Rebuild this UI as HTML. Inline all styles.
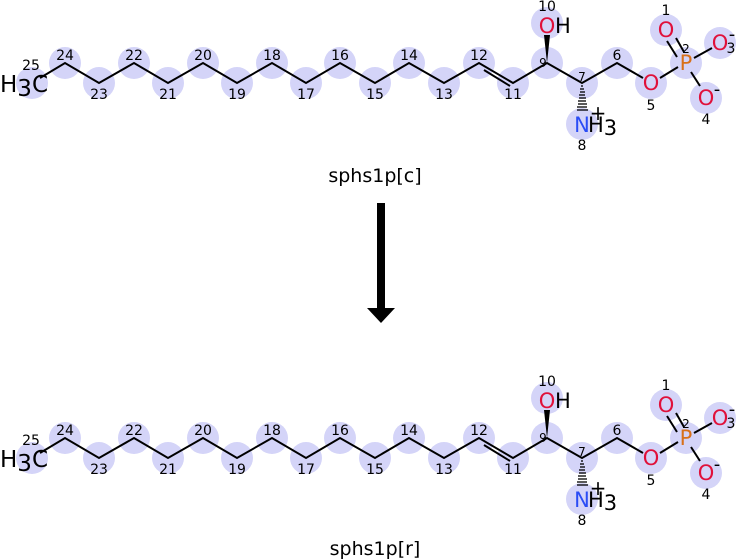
<!DOCTYPE html>
<html><head><meta charset="utf-8"><style>
html,body{margin:0;padding:0;background:#fff;width:736px;height:560px;overflow:hidden}
svg{display:block}
text{font-family:"DejaVu Sans","Liberation Sans",sans-serif}
</style></head><body>
<svg width="736" height="560" viewBox="0 0 736 560" xmlns="http://www.w3.org/2000/svg">
<defs>
<g id="mol">
 <g fill="#d4d4f8">
  <circle cx="32" cy="83" r="16"/><circle cx="65" cy="63" r="16"/><circle cx="99" cy="83" r="16"/>
  <circle cx="134" cy="63" r="16"/><circle cx="168" cy="83" r="16"/><circle cx="203" cy="63" r="16"/>
  <circle cx="237" cy="83" r="16"/><circle cx="272" cy="63" r="16"/><circle cx="306" cy="83" r="16"/>
  <circle cx="340" cy="63" r="16"/><circle cx="375" cy="83" r="16"/><circle cx="409" cy="63" r="16"/>
  <circle cx="444" cy="83" r="16"/><circle cx="479" cy="63" r="16"/><circle cx="513" cy="83" r="16"/>
  <circle cx="547" cy="63" r="16"/><circle cx="582" cy="83" r="16"/><circle cx="617" cy="63" r="16"/>
  <circle cx="651" cy="83" r="16"/><circle cx="686" cy="63" r="16"/><circle cx="666" cy="30" r="16"/>
  <circle cx="720" cy="43" r="16"/><circle cx="706" cy="98" r="16"/><circle cx="547" cy="23" r="16"/>
  <circle cx="582" cy="124" r="16"/>
 </g>
 <g stroke="#000" stroke-width="2" fill="none" stroke-linejoin="miter">
  <polyline points="40,78 65,63 99,83 134,63 168,83 203,63 237,83 272,63 306,83 340,63 375,83 409,63 444,83 479,63 513,83 547,63 582,83 617,63 643,78"/>
  <line x1="484" y1="70" x2="510" y2="86"/>
  <line x1="660" y1="78" x2="678" y2="67"/>
  <line x1="694" y1="58" x2="712" y2="48"/>
  <line x1="691" y1="72" x2="700" y2="86"/>
  <line x1="677" y1="57" x2="667" y2="41"/>
  <line x1="684" y1="52" x2="676" y2="38"/>
 </g>
 <polygon points="547,63 544,35 550,35" fill="#000"/>
 <g stroke="#000" stroke-width="1.3">
  <line x1="581" y1="86" x2="583" y2="86"/><line x1="580" y1="89" x2="584" y2="89"/>
  <line x1="580" y1="92" x2="585" y2="92"/><line x1="579" y1="95" x2="585" y2="95"/>
  <line x1="579" y1="98" x2="586" y2="98"/><line x1="578" y1="101" x2="586" y2="101"/>
  <line x1="578" y1="104" x2="587" y2="104"/><line x1="577" y1="107" x2="587" y2="107"/>
  <line x1="577" y1="110" x2="588" y2="110"/>
 </g>
 <text x="0" y="92" font-size="23" fill="#000">H<tspan dy="4">3</tspan><tspan dy="-4">C</tspan></text>
 <text x="547" y="33" font-size="21" fill="#e0103a" text-anchor="middle">O</text>
 <text x="555" y="33" font-size="21" fill="#000">H</text>
 <text x="582" y="132" font-size="21" fill="#2a4cf5" text-anchor="middle">N</text>
 <text x="588" y="132" font-size="21" fill="#000">H<tspan dy="3">3</tspan></text>
 <text x="598" y="120" font-size="20" fill="#000" text-anchor="middle">+</text>
 <text x="651" y="90" font-size="21" fill="#e0103a" text-anchor="middle">O</text>
 <text x="686" y="70" font-size="21" fill="#d8701a" text-anchor="middle">P</text>
 <text x="666" y="37" font-size="21" fill="#e0103a" text-anchor="middle">O</text>
 <text x="720" y="50" font-size="21" fill="#e0103a" text-anchor="middle">O</text>
 <text x="706" y="105" font-size="21" fill="#e0103a" text-anchor="middle">O</text>
 <text x="732" y="40" font-size="18" fill="#000" text-anchor="middle">-</text>
 <text x="717" y="95" font-size="18" fill="#000" text-anchor="middle">-</text>
 <g font-size="14" fill="#000" text-anchor="middle">
  <text x="31" y="70">25</text><text x="65" y="60">24</text><text x="99" y="99">23</text>
  <text x="134" y="60">22</text><text x="168" y="99">21</text><text x="203" y="60">20</text>
  <text x="237" y="99">19</text><text x="272" y="60">18</text><text x="306" y="99">17</text>
  <text x="340" y="60">16</text><text x="375" y="99">15</text><text x="409" y="60">14</text>
  <text x="444" y="99">13</text><text x="479" y="60">12</text><text x="513" y="99">11</text>
  <text x="547" y="11">10</text><text x="582" y="150">8</text><text x="617" y="60">6</text>
  <text x="651" y="110">5</text><text x="666" y="15">1</text><text x="706" y="124">4</text>
  <text x="731" y="53">3</text>
 </g>
 <g font-size="12" fill="#000" text-anchor="middle">
  <text x="543" y="67">9</text><text x="582" y="81">7</text><text x="686" y="53">2</text>
 </g>
</g>
</defs>
<use href="#mol"/>
<use href="#mol" transform="translate(0,375)"/>
<text x="375" y="182" font-size="19" text-anchor="middle" fill="#000">sphs1p[c]</text>
<text x="375" y="555" font-size="19" text-anchor="middle" fill="#000">sphs1p[r]</text>
<rect x="377" y="203" width="8" height="106" fill="#000"/>
<polygon points="367,308 395,308 381,323" fill="#000"/>
</svg>
</body></html>
